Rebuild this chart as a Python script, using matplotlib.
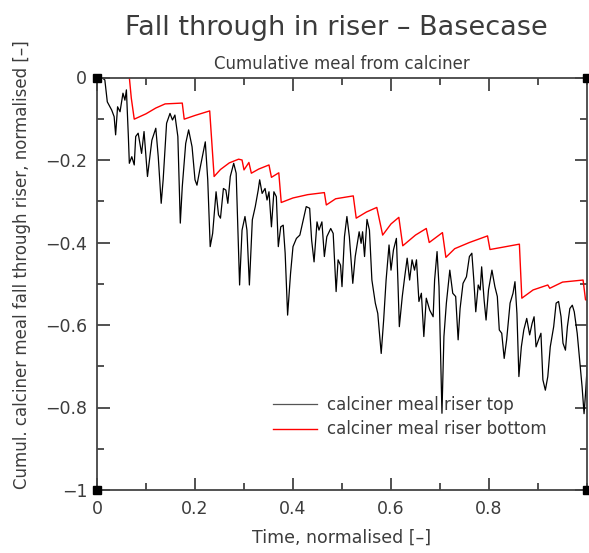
import matplotlib
matplotlib.use("Agg")
import matplotlib.pyplot as plt
from matplotlib.ticker import MultipleLocator, FixedLocator

# riser top (black)
top_t = [0.000, 0.012, 0.016, 0.021, 0.030, 0.035, 0.038, 0.042, 0.047, 0.053,
         0.057, 0.060, 0.064, 0.066, 0.071, 0.076, 0.079, 0.084, 0.091, 0.096,
         0.103, 0.112, 0.120, 0.125, 0.131, 0.135, 0.142, 0.149, 0.154, 0.159,
         0.165, 0.170, 0.174, 0.181, 0.187, 0.194, 0.200, 0.204, 0.211, 0.221,
         0.226, 0.231, 0.236, 0.243, 0.248, 0.252, 0.258, 0.263, 0.267, 0.272,
         0.279, 0.284, 0.288, 0.291, 0.296, 0.302, 0.306, 0.311, 0.317, 0.323,
         0.329, 0.332, 0.337, 0.343, 0.347, 0.351, 0.356, 0.361, 0.366, 0.370,
         0.375, 0.380, 0.384, 0.389, 0.395, 0.400, 0.407, 0.414, 0.421, 0.427,
         0.434, 0.438, 0.443, 0.449, 0.453, 0.459, 0.464, 0.469, 0.477, 0.482,
         0.488, 0.492, 0.497, 0.500, 0.505, 0.510, 0.515, 0.522, 0.527, 0.535,
         0.539, 0.542, 0.546, 0.551, 0.556, 0.561, 0.568, 0.573, 0.580, 0.585,
         0.590, 0.596, 0.600, 0.605, 0.611, 0.614, 0.617, 0.623, 0.628, 0.633,
         0.638, 0.643, 0.648, 0.652, 0.657, 0.662, 0.667, 0.672, 0.679, 0.686,
         0.689, 0.694, 0.698, 0.702, 0.704, 0.708, 0.713, 0.720, 0.726, 0.732,
         0.737, 0.741, 0.747, 0.754, 0.760, 0.765, 0.769, 0.773, 0.778, 0.782,
         0.785, 0.790, 0.794, 0.799, 0.806, 0.812, 0.817, 0.821, 0.826, 0.831,
         0.836, 0.843, 0.849, 0.853, 0.857, 0.861, 0.866, 0.871, 0.877, 0.883,
         0.888, 0.892, 0.896, 0.901, 0.906, 0.910, 0.915, 0.920, 0.925, 0.932,
         0.937, 0.942, 0.947, 0.951, 0.956, 0.960, 0.965, 0.970, 0.974, 0.980,
         0.985, 0.990, 0.994, 0.997, 1.002, 1.007]
top_y = [0.000, -0.002, -0.006, -0.059, -0.079, -0.095, -0.139, -0.071, -0.083, -0.038,
         -0.055, -0.030, -0.143, -0.208, -0.192, -0.212, -0.143, -0.135, -0.184, -0.131,
         -0.240, -0.152, -0.123, -0.192, -0.305, -0.248, -0.111, -0.087, -0.103, -0.091,
         -0.143, -0.353, -0.265, -0.160, -0.127, -0.168, -0.248, -0.261, -0.216, -0.156,
         -0.248, -0.410, -0.378, -0.277, -0.333, -0.341, -0.269, -0.273, -0.305, -0.240,
         -0.208, -0.232, -0.386, -0.503, -0.370, -0.337, -0.370, -0.503, -0.345, -0.313,
         -0.273, -0.248, -0.281, -0.269, -0.297, -0.277, -0.362, -0.277, -0.289, -0.410,
         -0.362, -0.358, -0.426, -0.576, -0.475, -0.410, -0.390, -0.382, -0.345, -0.313,
         -0.317, -0.394, -0.447, -0.350, -0.370, -0.350, -0.434, -0.386, -0.366, -0.378,
         -0.519, -0.442, -0.455, -0.507, -0.386, -0.337, -0.386, -0.499, -0.434, -0.374,
         -0.402, -0.374, -0.434, -0.344, -0.370, -0.491, -0.547, -0.572, -0.669, -0.588,
         -0.491, -0.406, -0.467, -0.418, -0.390, -0.491, -0.604, -0.531, -0.483, -0.438,
         -0.491, -0.442, -0.467, -0.442, -0.543, -0.523, -0.628, -0.535, -0.564, -0.580,
         -0.491, -0.422, -0.507, -0.709, -0.814, -0.628, -0.547, -0.467, -0.523, -0.531,
         -0.636, -0.560, -0.499, -0.483, -0.434, -0.426, -0.491, -0.568, -0.503, -0.515,
         -0.459, -0.539, -0.588, -0.515, -0.467, -0.507, -0.531, -0.612, -0.620, -0.681,
         -0.636, -0.547, -0.523, -0.495, -0.572, -0.725, -0.653, -0.612, -0.584, -0.624,
         -0.596, -0.580, -0.653, -0.636, -0.620, -0.733, -0.758, -0.725, -0.653, -0.604,
         -0.547, -0.543, -0.580, -0.644, -0.661, -0.604, -0.560, -0.552, -0.568, -0.620,
         -0.685, -0.750, -0.815, -0.766, -0.669, -0.608]

# riser bottom (red)
bottom_t = [0.066, 0.070, 0.076, 0.100, 0.120, 0.139, 0.174, 0.178, 0.200, 0.230,
            0.239, 0.252, 0.270, 0.289, 0.296, 0.300, 0.310, 0.315, 0.330, 0.351,
            0.356, 0.371, 0.376, 0.400, 0.430, 0.464, 0.468, 0.487, 0.523, 0.529,
            0.550, 0.571, 0.583, 0.600, 0.616, 0.624, 0.650, 0.672, 0.678, 0.705,
            0.712, 0.730, 0.760, 0.797, 0.802, 0.830, 0.862, 0.867, 0.890, 0.920,
            0.924, 0.950, 0.992, 0.997, 1.010]
bottom_y = [0.000, -0.050, -0.101, -0.088, -0.074, -0.064, -0.062, -0.101, -0.092, -0.081,
            -0.240, -0.223, -0.207, -0.198, -0.200, -0.224, -0.206, -0.232, -0.222, -0.212,
            -0.242, -0.231, -0.303, -0.292, -0.284, -0.279, -0.309, -0.294, -0.287, -0.341,
            -0.326, -0.315, -0.382, -0.355, -0.339, -0.408, -0.382, -0.366, -0.400, -0.376,
            -0.436, -0.415, -0.400, -0.384, -0.417, -0.411, -0.404, -0.535, -0.515, -0.503,
            -0.511, -0.496, -0.491, -0.539, -0.540]

series_labels = ["calciner meal riser top", "calciner meal riser bottom"]
x_ticks = [0, 0.2, 0.4, 0.6, 0.8]
x_tick_labels = ["0", "0.2", "0.4", "0.6", "0.8"]
y_ticks = [0, -0.2, -0.4, -0.6, -0.8, -1]
y_tick_labels = ["0", "\u22120.2", "\u22120.4", "\u22120.6", "\u22120.8", "\u22121"]

txt = "#3c3c3c"
plt.rcParams['font.family'] = ['DejaVu Sans']

fig = plt.figure(figsize=(5.89, 5.53), dpi=100)
ax = fig.add_axes([97 / 589, 1 - 490 / 553, 490 / 589, 412.5 / 553])

ax.plot(top_t, top_y, color="black", lw=0.9, label=series_labels[0])
ax.plot(bottom_t, bottom_y, color="#ff0000", lw=1.0, label=series_labels[1])

ax.set_xlim(0, 1.0)
ax.set_ylim(-1, 0)

ax.xaxis.set_major_locator(FixedLocator(x_ticks))
ax.set_xticklabels(x_tick_labels)
ax.xaxis.set_minor_locator(MultipleLocator(0.1))
ax.yaxis.set_major_locator(FixedLocator(y_ticks))
ax.set_yticklabels(y_tick_labels)
ax.yaxis.set_minor_locator(MultipleLocator(0.1))

ax.tick_params(which="both", direction="in", top=True, right=True,
               color="#333333", width=1.2, labelsize=12.5, labelcolor=txt)
ax.tick_params(which="major", length=9, pad=7)
ax.tick_params(which="minor", length=5)
for s in ax.spines.values():
    s.set_color("#444444")
    s.set_linewidth(1.3)

# black squares on the corners
for cx in (0, 1.0):
    for cy in (0, -1):
        ax.plot([cx], [cy], marker="s", ms=6, color="black", clip_on=False, zorder=5)

ax.set_title("Cumulative meal from calciner", fontsize=12, color=txt, pad=6)
ax.set_xlabel("Time, normalised [\u2013]", fontsize=12.5, color=txt, labelpad=8)
fig.text(22 / 589, 1 - 265 / 553,
         "Cumul. calciner meal fall through riser, normalised [\u2013]",
         rotation=90, ha="center", va="center", fontsize=12, color=txt)
fig.text(336 / 589, 1 - 28 / 553, "Fall through in riser \u2013 Basecase",
         ha="center", va="center", fontsize=19.5, color=txt)

leg = ax.legend(loc="lower left", bbox_to_anchor=(0.36, 0.125), frameon=False,
                fontsize=12, handlelength=2.6, handletextpad=0.6,
                labelspacing=0.4, borderaxespad=0, borderpad=0)
for t in leg.get_texts():
    t.set_color(txt)
leg.get_lines()[0].set_color("#555555")

fig.savefig("out.png", dpi=100)
